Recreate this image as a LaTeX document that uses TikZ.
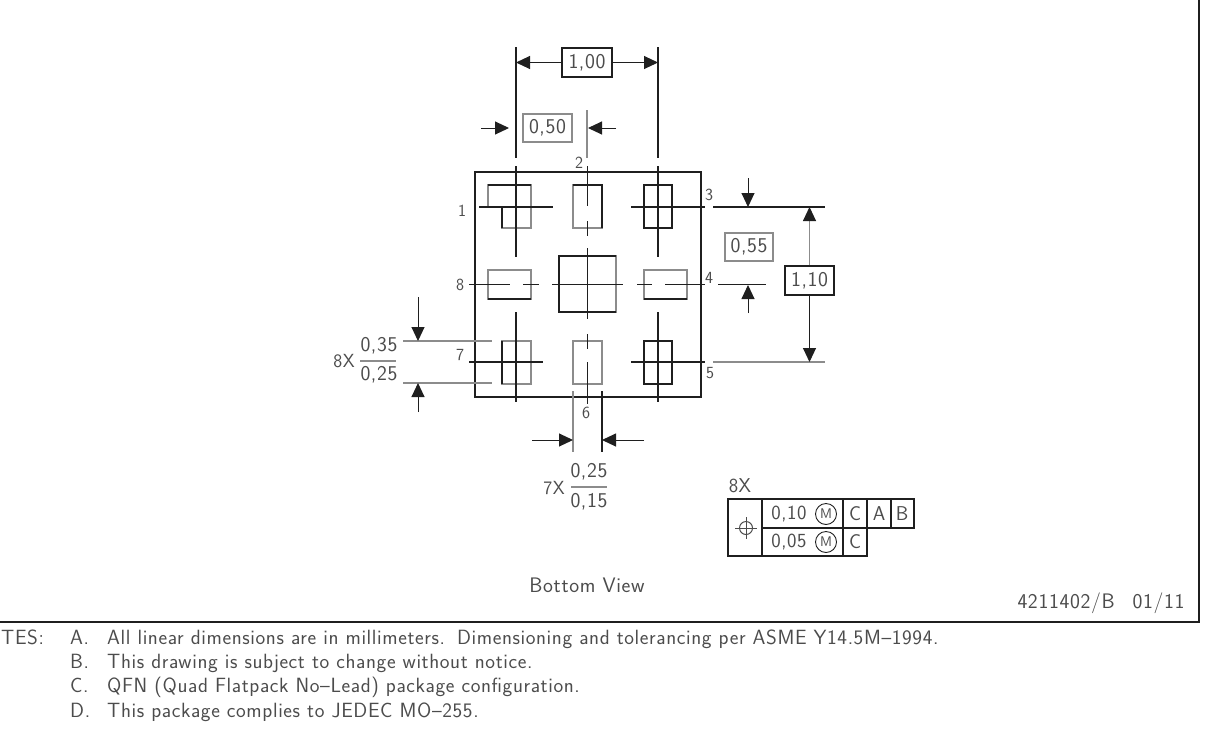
\documentclass[tikz,border=0pt]{standalone}
\usepackage{fontspec}
\newfontfamily\dwgfont[LetterSpace=3]{Latin Modern Sans}
\usetikzlibrary{arrows.meta}
\definecolor{inkblack}{gray}{0.12}
\definecolor{inkgray}{gray}{0.55}
\definecolor{txtgray}{gray}{0.3}
\tikzset{
	outline/.style={inkblack, line width=1.05pt},
	pad/.style={inkgray, line width=1.05pt},
	padblack/.style={inkblack, line width=1.05pt},
	centerline/.style={inkblack, line width=1.05pt},
	extline/.style={inkgray, line width=1.05pt},
	dimarrow/.style={inkblack, line width=1pt, -{Triangle[length=14pt, width=13pt, color=inkblack]}},
	dimbox/.style={draw=inkblack, line width=1.05pt, inner sep=0pt, minimum height=29pt, text=txtgray, font=\dwgfont\fontsize{21}{21}\selectfont},
	dimtext/.style={inner sep=0pt, text=txtgray, font=\dwgfont\fontsize{21}{21}\selectfont},
	counttext/.style={inner sep=0pt, text=txtgray, font=\dwgfont\fontsize{19}{19}\selectfont},
	fcftext/.style={inner sep=0pt, text=txtgray, font=\dwgfont\fontsize{20}{20}\selectfont},
	pinlabel/.style={inner sep=0pt, text=txtgray, font=\dwgfont\fontsize{17}{17}\selectfont},
	captiontext/.style={inner sep=0pt, text=txtgray, font=\dwgfont\fontsize{21}{21}\selectfont},
	notetext/.style={inner sep=0pt, anchor=base west, text=txtgray, font=\dwgfont\fontsize{20.6}{21}\selectfont}
}
\begin{document}
\begin{tikzpicture}[x=1pt, y=-1pt]
	\useasboundingbox (0, 0) rectangle (1230, 750);
	% sheet frame
	\draw[outline] (0, 622) -- (1199, 622) -- (1199, 0);
	% package outline
	\draw[outline] (475, 172) rectangle (701, 397);
	% pads
	\draw[pad] (502, 207) -- (488, 207) -- (488, 185) -- (531, 185) -- (531, 228) -- (502, 228) -- cycle;
	\draw[padblack] (488, 185) -- (531, 185);
	\draw[padblack] (502, 207) -- (502, 228);
	\foreach \xl/\xr in {573/602}{
		\draw[pad] (\xl, 185) rectangle (\xr, 228);
		\draw[pad] (\xl, 341) rectangle (\xr, 384);
	}
	\draw[padblack] (573, 185) -- (602, 185) -- (602, 228);
	\draw[padblack] (644, 185) rectangle (672, 228);
	\draw[padblack] (644, 341) rectangle (672, 384);
	\draw[pad] (488, 270) rectangle (531, 299);
	\draw[padblack] (488, 299) -- (531, 299);
	\draw[pad] (644, 270) rectangle (687, 299);
	\draw[padblack] (644, 299) -- (687, 299);
	\draw[pad] (502, 341) rectangle (531, 384);
	\draw[padblack] (502, 341) -- (502, 384);
	\draw[pad] (559, 256) rectangle (616, 312);
	\draw[padblack] (616, 256) -- (559, 256) -- (559, 312) -- (616, 312);
	% vertical center lines
	\foreach \x in {516, 658}{
		\draw[centerline] (\x, 166) -- (\x, 257);
		\draw[centerline] (\x, 312) -- (\x, 402);
	}
	\foreach \ya/\yb in {166/206, 221/236, 248/319, 334/349, 362/404}{
		\draw[centerline] (587.5, \ya) -- (587.5, \yb);
	}
	% horizontal center lines
	\foreach \y in {207, 362}{
		\draw[centerline] (631, \y) -- (705, \y);
	}
	\draw[centerline] (479, 207) -- (553, 207);
	\draw[centerline] (469, 362) -- (543, 362);
	\foreach \xa/\xb in {469/510, 523/539, 552/623, 637/652, 665/705}{
		\draw[centerline] (\xa, 284.5) -- (\xb, 284.5);
	}
	% pin numbers
	\node[pinlabel] (pinA) at (462, 211) {1};
	\node[pinlabel] (pinB) at (579, 163) {2};
	\node[pinlabel] (pinC) at (709, 195) {3};
	\node[pinlabel] (pinD) at (709, 278) {4};
	\node[pinlabel] (pinE) at (710, 373) {5};
	\node[pinlabel] (pinF) at (586, 413) {6};
	\node[pinlabel] (pinG) at (460, 355) {7};
	\node[pinlabel] (pinH) at (460, 285) {8};
	% pitch 1,00
	\draw[centerline] (516, 47) -- (516, 158);
	\draw[centerline] (658, 47) -- (658, 158);
	\node[dimbox, minimum width=50pt] (pitchlong) at (587, 62.5) {1,00};
	\coordinate (pitchlongL) at (516, 62.5);
	\coordinate (pitchlongR) at (658, 62.5);
	\draw[dimarrow] (pitchlong) -- (pitchlongL);
	\draw[dimarrow] (pitchlong) -- (pitchlongR);
	% pitch 0,50
	\draw[extline] (587, 110) -- (587, 158);
	\node[dimbox, draw=inkgray, minimum width=49pt, minimum height=28pt] (pitchshort) at (547.5, 128) {0,50};
	\coordinate (shortLa) at (481, 128);
	\coordinate (shortLb) at (509, 128);
	\coordinate (shortRa) at (616, 128);
	\coordinate (shortRb) at (588, 128);
	\draw[dimarrow] (shortLa) -- (shortLb);
	\draw[dimarrow] (shortRa) -- (shortRb);
	% extension lines on the right
	\draw[centerline] (713, 207) -- (825, 207);
	\draw[extline] (713, 362) -- (825, 362);
	\draw[centerline] (718, 284.5) -- (766, 284.5);
	% pitch 0,55
	\node[dimbox, draw=inkgray, minimum width=48pt, minimum height=28pt] (pitchrow) at (749, 247) {0,55};
	\coordinate (rowTa) at (748, 178);
	\coordinate (rowTb) at (748, 207);
	\coordinate (rowBa) at (748, 313);
	\coordinate (rowBb) at (748, 285);
	\draw[dimarrow] (rowTa) -- (rowTb);
	\draw[dimarrow] (rowBa) -- (rowBb);
	% pitch 1,10
	\node[dimbox, minimum width=49pt] (pitchcol) at (809.5, 280.5) {1,10};
	\coordinate (colT) at (809.5, 207);
	\coordinate (colB) at (809.5, 362);
	\draw[dimarrow, inkgray] (pitchcol) -- (colT);
	\draw[dimarrow] (pitchcol) -- (colB);
	% pad length
	\draw[extline] (403, 341) -- (492, 341);
	\draw[extline] (403, 383) -- (492, 383);
	\coordinate (lenTa) at (418, 297);
	\coordinate (lenTb) at (418, 341);
	\coordinate (lenBa) at (418, 412);
	\coordinate (lenBb) at (418, 383);
	\draw[dimarrow] (lenTa) -- (lenTb);
	\draw[dimarrow] (lenBa) -- (lenBb);
	\node[counttext] (lencount) at (344, 361) {8X};
	\node[dimtext] (lenmax) at (379, 346) {0,35};
	\node[dimtext] (lenmin) at (379, 375) {0,25};
	\draw[extline] (360, 361) -- (396, 361);
	% pad width
	\draw[extline] (573, 391) -- (573, 452);
	\draw[centerline] (602, 391) -- (602, 452);
	\coordinate (widLa) at (532, 440);
	\coordinate (widLb) at (573, 440);
	\coordinate (widRa) at (644, 440);
	\coordinate (widRb) at (602, 440);
	\draw[dimarrow] (widLa) -- (widLb);
	\draw[dimarrow] (widRa) -- (widRb);
	\node[counttext] (widcount) at (554, 488) {7X};
	\node[dimtext] (widmax) at (589, 472) {0,25};
	\node[dimtext] (widmin) at (589, 502) {0,15};
	\draw[extline] (571, 487) -- (607, 487);
	% feature control frame
	\node[fcftext] (fcfcount) at (740, 486) {8X};
	\draw[outline] (728, 499) rectangle (762, 556);
	\draw[outline] (762, 499) rectangle (843, 528);
	\draw[outline] (762, 528) rectangle (843, 556);
	\draw[outline] (843, 528) rectangle (867, 556);
	\foreach \xl/\xr in {843/867, 867/891, 891/914}{
		\draw[outline] (\xl, 499) rectangle (\xr, 528);
	}
	\draw[txtgray, line width=1pt] (746, 528) circle (6.5);
	\draw[txtgray, line width=1pt] (735, 528) -- (757, 528);
	\draw[txtgray, line width=1pt] (746, 517) -- (746, 539);
	\node[fcftext] (tolA) at (789, 514) {0,10};
	\node[fcftext] (tolB) at (789, 542) {0,05};
	\foreach \y/\n in {514/modA, 542/modB}{
		\node[draw=inkblack, circle, line width=0.9pt, inner sep=0pt, minimum size=21pt, text=txtgray, font=\dwgfont\fontsize{14}{14}\selectfont] (\n) at (826, \y) {M};
	}
	\node[fcftext] (datA) at (855, 514) {C};
	\node[fcftext] (datB) at (879, 514) {A};
	\node[fcftext] (datC) at (902, 514) {B};
	\node[fcftext] (datD) at (855, 542) {C};
	% captions
	\node[captiontext] (viewname) at (587, 585) {Bottom View};
	\node[captiontext] (drawingno) at (1101, 603) {4211402/B\hspace{18pt}01/11};
	% notes
	\node[notetext] (notehead) at (1, 644) {TES:};
	\foreach \y/\m/\t in {
		644/noteA/{All linear dimensions are in millimeters.\hspace{12pt}Dimensioning and tolerancing per ASME Y14.5M–1994.},
		668/noteB/{This drawing is subject to change without notice.},
		692/noteC/{QFN (Quad Flatpack No–Lead) package configuration.},
		717/noteD/{This package complies to JEDEC MO–255.}}{
		\node[notetext] (\m) at (107, \y) {\t};
	}
	\node[notetext] (markA) at (70, 644) {A.};
	\node[notetext] (markB) at (70, 668) {B.};
	\node[notetext] (markC) at (70, 692) {C.};
	\node[notetext] (markD) at (70, 717) {D.};
\end{tikzpicture}
\end{document}
